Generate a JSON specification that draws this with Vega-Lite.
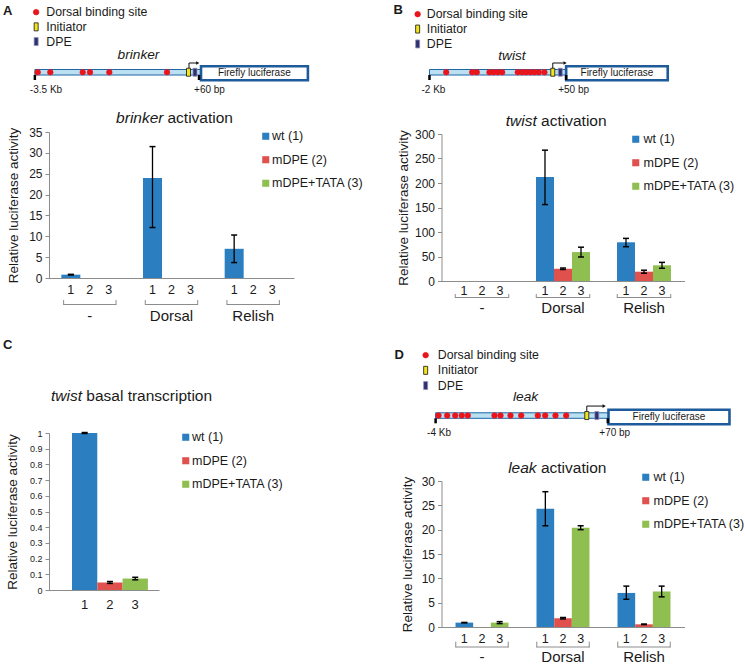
{
  "$schema": "https://vega.github.io/schema/vega-lite/v6.json",
  "background": "white",
  "padding": {"left": 2, "top": 0, "right": 0, "bottom": 0},
  "config": {
    "font": "Liberation Sans",
    "view": {"stroke": null},
    "axis": {"grid": false, "labelFont": "Liberation Sans", "titleFont": "Liberation Sans", "labelColor": "#1a1a1a", "titleColor": "#1a1a1a", "domainColor": "#8c8c8c", "tickColor": "#8c8c8c", "titleFontWeight": "normal", "labelOverlap": false, "labelFlush": false},
    "legend": {"labelFont": "Liberation Sans", "labelColor": "#1a1a1a"},
    "text": {"font": "Liberation Sans", "color": "#1a1a1a"}
  },
  "datasets": {
    "slots": [
      {"group": "-", "series": "wt (1)", "num": "1"}, {"group": "-", "series": "mDPE (2)", "num": "2"}, {"group": "-", "series": "mDPE+TATA (3)", "num": "3"},
      {"group": "Dorsal", "series": "wt (1)", "num": "1"}, {"group": "Dorsal", "series": "mDPE (2)", "num": "2"}, {"group": "Dorsal", "series": "mDPE+TATA (3)", "num": "3"},
      {"group": "Relish", "series": "wt (1)", "num": "1"}, {"group": "Relish", "series": "mDPE (2)", "num": "2"}, {"group": "Relish", "series": "mDPE+TATA (3)", "num": "3"}
    ],
    "groups": [{"group": "-"}, {"group": "Dorsal"}, {"group": "Relish"}],
    "brinker": [
      {"group": "-", "series": "wt (1)", "value": 0.8, "lo": 0.72, "hi": 0.88},
      {"group": "Dorsal", "series": "wt (1)", "value": 24.0, "lo": 12.1, "hi": 31.5},
      {"group": "Relish", "series": "wt (1)", "value": 7.0, "lo": 3.7, "hi": 10.3}
    ],
    "twist": [
      {"group": "Dorsal", "series": "wt (1)", "value": 212, "lo": 156, "hi": 267},
      {"group": "Dorsal", "series": "mDPE (2)", "value": 25, "lo": 23.5, "hi": 26.5},
      {"group": "Dorsal", "series": "mDPE+TATA (3)", "value": 59, "lo": 49, "hi": 69},
      {"group": "Relish", "series": "wt (1)", "value": 79, "lo": 70, "hi": 87},
      {"group": "Relish", "series": "mDPE (2)", "value": 19, "lo": 16, "hi": 22},
      {"group": "Relish", "series": "mDPE+TATA (3)", "value": 32, "lo": 26, "hi": 38}
    ],
    "twist_basal": [
      {"num": "1", "series": "wt (1)", "value": 1.0, "lo": 0.997, "hi": 1.003},
      {"num": "2", "series": "mDPE (2)", "value": 0.048, "lo": 0.042, "hi": 0.054},
      {"num": "3", "series": "mDPE+TATA (3)", "value": 0.073, "lo": 0.065, "hi": 0.081}
    ],
    "leak": [
      {"group": "-", "series": "wt (1)", "value": 0.9, "lo": 0.86, "hi": 0.94},
      {"group": "-", "series": "mDPE+TATA (3)", "value": 0.9, "lo": 0.7, "hi": 1.1},
      {"group": "Dorsal", "series": "wt (1)", "value": 24.3, "lo": 20.8, "hi": 27.8},
      {"group": "Dorsal", "series": "mDPE (2)", "value": 1.8, "lo": 1.65, "hi": 1.95},
      {"group": "Dorsal", "series": "mDPE+TATA (3)", "value": 20.4, "lo": 20.0, "hi": 20.8},
      {"group": "Relish", "series": "wt (1)", "value": 7.0, "lo": 5.7, "hi": 8.4},
      {"group": "Relish", "series": "mDPE (2)", "value": 0.55, "lo": 0.5, "hi": 0.6},
      {"group": "Relish", "series": "mDPE+TATA (3)", "value": 7.3, "lo": 6.2, "hi": 8.4}
    ],
    "brinker_sites": [
      {"feature": "Dorsal binding site", "kb": -3.435}, {"feature": "Dorsal binding site", "kb": -3.148},
      {"feature": "Dorsal binding site", "kb": -2.41}, {"feature": "Dorsal binding site", "kb": -2.244},
      {"feature": "Dorsal binding site", "kb": -1.804}, {"feature": "Dorsal binding site", "kb": -0.49},
      {"feature": "Initiator", "kb": 0}, {"feature": "DPE", "kb": 0.148}
    ],
    "twist_sites": [
      {"feature": "Dorsal binding site", "kb": -1.729}, {"feature": "Dorsal binding site", "kb": -1.307},
      {"feature": "Dorsal binding site", "kb": -1.233}, {"feature": "Dorsal binding site", "kb": -1.027},
      {"feature": "Dorsal binding site", "kb": -0.962}, {"feature": "Dorsal binding site", "kb": -0.892},
      {"feature": "Dorsal binding site", "kb": -0.821}, {"feature": "Dorsal binding site", "kb": -0.568},
      {"feature": "Dorsal binding site", "kb": -0.496}, {"feature": "Dorsal binding site", "kb": -0.431},
      {"feature": "Dorsal binding site", "kb": -0.362}, {"feature": "Dorsal binding site", "kb": -0.297},
      {"feature": "Dorsal binding site", "kb": -0.227}, {"feature": "Dorsal binding site", "kb": -0.135},
      {"feature": "Initiator", "kb": 0}, {"feature": "DPE", "kb": 0.122}
    ],
    "leak_sites": [
      {"feature": "Dorsal binding site", "kb": -3.923}, {"feature": "Dorsal binding site", "kb": -3.693},
      {"feature": "Dorsal binding site", "kb": -3.481}, {"feature": "Dorsal binding site", "kb": -3.307},
      {"feature": "Dorsal binding site", "kb": -3.148}, {"feature": "Dorsal binding site", "kb": -2.442},
      {"feature": "Dorsal binding site", "kb": -2.283}, {"feature": "Dorsal binding site", "kb": -2.019},
      {"feature": "Dorsal binding site", "kb": -1.735}, {"feature": "Dorsal binding site", "kb": -1.296},
      {"feature": "Dorsal binding site", "kb": -1.1}, {"feature": "Dorsal binding site", "kb": -0.828},
      {"feature": "Dorsal binding site", "kb": -0.545},
      {"feature": "Initiator", "kb": 0}, {"feature": "DPE", "kb": 0.265}
    ]
  },
  "spacing": 28.5,
  "resolve": {"scale": {"color": "independent", "fill": "independent", "stroke": "independent", "shape": "independent", "xOffset": "independent"}},
  "hconcat": [
    {
      "vconcat": [
        {
          "width": 260, "height": 75,
          "layer": [
            {"data": {"values": [{"part": "promoter", "start": -3.5, "end": 0.285}]},
             "mark": {"type": "rect", "fill": "#bae0f1", "stroke": "#2065a3", "strokeWidth": 1},
             "encoding": {
               "x": {"field": "start", "type": "quantitative", "title": null, "scale": {"domain": [-3.178, 2.745], "nice": false, "zero": false}, "axis": null},
               "x2": {"field": "end"},
               "y": {"datum": 0, "type": "quantitative", "scale": {"domain": [0, 15], "nice": false, "zero": false}, "axis": null},
               "y2": {"datum": 1.1}}},
            {"data": {"values": [{"part": "Firefly luciferase", "start": 0.285, "end": 2.72}]},
             "mark": {"type": "rect", "fill": "white", "stroke": "#1d5b9b", "strokeWidth": 2.6},
             "encoding": {"x": {"field": "start", "type": "quantitative", "title": null}, "x2": {"field": "end"}, "y": {"datum": -1.05}, "y2": {"datum": 1.75}}},
            {"data": {"values": [{}]},
             "mark": {"type": "text", "text": "Firefly luciferase", "fontSize": 10, "baseline": "middle"},
             "encoding": {"x": {"datum": 1.5}, "y": {"datum": 0.35}}},
            {"data": {"values": [{"pos": -3.5, "label": "-3.5 Kb"}, {"pos": 0.24, "label": "+60 bp"}]},
             "mark": {"type": "rule", "color": "#000", "strokeWidth": 2.5},
             "encoding": {"x": {"field": "pos", "type": "quantitative", "title": null}, "y": {"datum": 0}, "y2": {"datum": -1}}},
            {"data": {"values": [{"pos": -3.5, "label": "-3.5 Kb"}, {"pos": 0.24, "label": "+60 bp"}]},
             "mark": {"type": "text", "align": "left", "dx": -5, "fontSize": 10, "baseline": "middle"},
             "encoding": {"x": {"field": "pos", "type": "quantitative", "title": null}, "y": {"datum": -2.94}, "text": {"field": "label"}}},
            {"data": {"values": [{}]}, "mark": {"type": "rule", "color": "#111", "strokeWidth": 1},
             "encoding": {"x": {"datum": 0.011}, "y": {"datum": 1.1}, "y2": {"datum": 2.4}}},
            {"data": {"values": [{}]}, "mark": {"type": "rule", "color": "#111", "strokeWidth": 1},
             "encoding": {"x": {"datum": 0.011}, "x2": {"datum": 0.19}, "y": {"datum": 2.4}}},
            {"data": {"values": [{}]}, "mark": {"type": "point", "shape": "triangle-right", "filled": true, "color": "#111", "size": 14, "opacity": 1},
             "encoding": {"x": {"datum": 0.21}, "y": {"datum": 2.4}}},
            {"data": {"name": "brinker_sites"},
             "mark": {"type": "point", "filled": true, "opacity": 1, "strokeWidth": 0.8, "size": 30},
             "encoding": {
               "x": {"field": "kb", "type": "quantitative", "title": null},
               "y": {"datum": 0.55},
               "fill": {"field": "feature", "type": "nominal", "scale": {"domain": ["Dorsal binding site", "Initiator", "DPE"], "range": ["#e8151d", "#f3e51c", "#2e2f70"]},
                        "legend": {"title": null, "orient": "none", "legendX": -19, "legendY": 6, "direction": "vertical", "labelFontSize": 12.3, "labelOffset": 4, "rowPadding": 1.7, "padding": 0, "symbolSize": 30, "symbolStrokeWidth": 0.8}},
               "stroke": {"field": "feature", "type": "nominal", "scale": {"domain": ["Dorsal binding site", "Initiator", "DPE"], "range": ["#e8151d", "#111111", "#9090b8"]},
                        "legend": {"title": null, "orient": "none", "legendX": -19, "legendY": 6, "direction": "vertical", "labelFontSize": 12.3, "labelOffset": 4, "rowPadding": 1.7, "padding": 0, "symbolSize": 30, "symbolStrokeWidth": 0.8}},
               "shape": {"field": "feature", "type": "nominal", "scale": {"domain": ["Dorsal binding site", "Initiator", "DPE"], "range": ["circle", "M-0.73,-1.46H0.73V1.46H-0.73Z", "M-0.73,-1.46H0.73V1.46H-0.73Z"]},
                        "legend": {"title": null, "orient": "none", "legendX": -19, "legendY": 6, "direction": "vertical", "labelFontSize": 12.3, "labelOffset": 4, "rowPadding": 1.7, "padding": 0, "symbolSize": 30, "symbolStrokeWidth": 0.8}}
             }},
            {"data": {"values": [{}]}, "mark": {"type": "text", "text": "brinker", "fontStyle": "italic", "fontSize": 13.7, "baseline": "middle"},
             "encoding": {"x": {"datum": -1.139}, "y": {"datum": 4.0}}},
            {"data": {"values": [{}]}, "mark": {"type": "text", "text": "A", "fontWeight": "bold", "fontSize": 13, "align": "left", "baseline": "middle"},
             "encoding": {"x": {"datum": -4.225}, "y": {"datum": 12.86}}}
          ]
        },
        {
          "width": 245, "height": 146,
          "layer": [
            {"data": {"name": "brinker"}, "mark": {"type": "bar"},
             "encoding": {
               "x": {"field": "group", "type": "nominal", "scale": {"domain": ["-", "Dorsal", "Relish"], "paddingInner": 0.302, "paddingOuter": 0.151}, "axis": {"title": null, "labelAngle": 0, "ticks": false, "tickSize": 0, "labelPadding": 30, "labelFontSize": 15}},
               "xOffset": {"field": "series", "type": "nominal", "scale": {"domain": ["wt (1)", "mDPE (2)", "mDPE+TATA (3)"], "paddingInner": 0, "paddingOuter": 0}},
               "y": {"field": "value", "type": "quantitative", "scale": {"domain": [0, 35], "nice": false}, "axis": {"title": "Relative luciferase activity", "values": [0, 5, 10, 15, 20, 25, 30, 35], "tickCount": 20, "labelOverlap": false, "tickSize": 4, "labelFontSize": 12, "labelPadding": 3, "titleFontSize": 13.5, "titlePadding": 8.6}},
               "color": {"field": "series", "type": "nominal", "scale": {"domain": ["wt (1)", "mDPE (2)", "mDPE+TATA (3)"], "range": ["#2b7fc1", "#e0514e", "#8ebf50"]},
                         "legend": {"title": null, "orient": "none", "legendX": 210.5, "legendY": -2, "direction": "vertical", "symbolType": "square", "symbolSize": 50, "symbolStrokeWidth": 0, "labelFontSize": 12.5, "labelOffset": 0, "rowPadding": 10.5, "padding": 0}}
             }},
            {"data": {"name": "brinker"}, "mark": {"type": "rule", "color": "#000", "strokeWidth": 1.3},
             "encoding": {"x": {"field": "group", "type": "nominal"}, "xOffset": {"field": "series", "type": "nominal"}, "y": {"field": "lo", "type": "quantitative"}, "y2": {"field": "hi"}}},
            {"data": {"name": "brinker"}, "mark": {"type": "tick", "orient": "horizontal", "color": "#000", "size": 6, "thickness": 1.5, "opacity": 1},
             "encoding": {"x": {"field": "group", "type": "nominal"}, "xOffset": {"field": "series", "type": "nominal"}, "y": {"field": "lo", "type": "quantitative"}}},
            {"data": {"name": "brinker"}, "mark": {"type": "tick", "orient": "horizontal", "color": "#000", "size": 6, "thickness": 1.5, "opacity": 1},
             "encoding": {"x": {"field": "group", "type": "nominal"}, "xOffset": {"field": "series", "type": "nominal"}, "y": {"field": "hi", "type": "quantitative"}}},
            {"data": {"name": "slots"}, "mark": {"type": "text", "fontSize": 12.5, "baseline": "middle"},
             "encoding": {"x": {"field": "group", "type": "nominal"}, "xOffset": {"field": "series", "type": "nominal"}, "y": {"datum": -2.88}, "text": {"field": "num"}}},
            {"data": {"name": "groups"}, "mark": {"type": "bar", "color": "#8c8c8c", "width": {"band": 0.92}},
             "encoding": {"x": {"field": "group", "type": "nominal"}, "y": {"datum": -6.47}, "y2": {"datum": -6.23}}},
            {"data": {"name": "groups"}, "mark": {"type": "rule", "color": "#8c8c8c"},
             "encoding": {"x": {"field": "group", "type": "nominal", "bandPosition": 0.04}, "y": {"datum": -5.27}, "y2": {"datum": -6.47}}},
            {"data": {"name": "groups"}, "mark": {"type": "rule", "color": "#8c8c8c"},
             "encoding": {"x": {"field": "group", "type": "nominal", "bandPosition": 0.96}, "y": {"datum": -5.27}, "y2": {"datum": -6.47}}},
            {"data": {"values": [{}]}, "mark": {"type": "text", "text": "brinker", "fontStyle": "italic", "fontSize": 15.5, "align": "right", "baseline": "middle", "dx": -8},
             "encoding": {"x": {"datum": "Dorsal"}, "y": {"datum": 38.36}}},
            {"data": {"values": [{}]}, "mark": {"type": "text", "text": "activation", "fontSize": 15.5, "align": "left", "baseline": "middle", "dx": -4},
             "encoding": {"x": {"datum": "Dorsal"}, "y": {"datum": 38.36}}}
          ]
        },
        {"width": 10, "height": 41, "data": {"values": []}, "mark": "point"},
        {
          "width": 110, "height": 157,
          "layer": [
            {"data": {"name": "twist_basal"}, "mark": {"type": "bar"},
             "encoding": {
               "x": {"field": "num", "type": "nominal", "scale": {"domain": ["1", "2", "3"], "paddingInner": 0, "paddingOuter": 0.674, "align": 0.674}, "axis": {"title": null, "labelAngle": 0, "ticks": false, "tickSize": 0, "labelPadding": 8, "labelFontSize": 13}},
               "y": {"field": "value", "type": "quantitative", "scale": {"domain": [0, 1], "nice": false}, "axis": {"title": "Relative luciferase activity", "values": [0, 0.1, 0.2, 0.3, 0.4, 0.5, 0.6, 0.7, 0.8, 0.9, 1], "tickCount": 20, "labelOverlap": false, "format": "~g", "tickSize": 4, "labelFontSize": 9, "labelPadding": 3, "titleFontSize": 13.5, "titlePadding": 9.8}},
               "color": {"field": "series", "type": "nominal", "scale": {"domain": ["wt (1)", "mDPE (2)", "mDPE+TATA (3)"], "range": ["#2b7fc1", "#e0514e", "#8ebf50"]},
                         "legend": {"title": null, "orient": "none", "legendX": 130.5, "legendY": -2, "direction": "vertical", "symbolType": "square", "symbolSize": 50, "symbolStrokeWidth": 0, "labelFontSize": 12.5, "labelOffset": 0, "rowPadding": 10.5, "padding": 0}}
             }},
            {"data": {"name": "twist_basal"}, "mark": {"type": "rule", "color": "#000", "strokeWidth": 1.3},
             "encoding": {"x": {"field": "num", "type": "nominal"}, "y": {"field": "lo", "type": "quantitative"}, "y2": {"field": "hi"}}},
            {"data": {"name": "twist_basal"}, "mark": {"type": "tick", "orient": "horizontal", "color": "#000", "size": 6, "thickness": 1.5, "opacity": 1},
             "encoding": {"x": {"field": "num", "type": "nominal"}, "y": {"field": "lo", "type": "quantitative"}}},
            {"data": {"name": "twist_basal"}, "mark": {"type": "tick", "orient": "horizontal", "color": "#000", "size": 6, "thickness": 1.5, "opacity": 1},
             "encoding": {"x": {"field": "num", "type": "nominal"}, "y": {"field": "hi", "type": "quantitative"}}},
            {"data": {"values": [{}]}, "mark": {"type": "text", "text": "twist", "fontStyle": "italic", "fontSize": 15.5, "align": "right", "baseline": "middle", "dx": -2.65},
             "encoding": {"x": {"datum": "1"}, "y": {"datum": 1.2357}}},
            {"data": {"values": [{}]}, "mark": {"type": "text", "text": "basal transcription", "fontSize": 15.5, "align": "left", "baseline": "middle", "dx": 1.65},
             "encoding": {"x": {"datum": "1"}, "y": {"datum": 1.2357}}},
            {"data": {"values": [{}]}, "mark": {"type": "text", "text": "C", "fontWeight": "bold", "fontSize": 13, "align": "left", "baseline": "middle", "dx": -81.65},
             "encoding": {"x": {"datum": "1"}, "y": {"datum": 1.5605}}}
          ]
        }
      ],
      "spacing": 57,
      "bounds": "flush",
      "resolve": {"scale": {"color": "independent", "fill": "independent", "stroke": "independent", "shape": "independent", "xOffset": "independent"}}
    },
    {
      "vconcat": [
        {
          "width": 243, "height": 75,
          "layer": [
            {"data": {"values": [{"part": "promoter", "start": -2, "end": 0.217}]},
             "mark": {"type": "rect", "fill": "#bae0f1", "stroke": "#2065a3", "strokeWidth": 1},
             "encoding": {
               "x": {"field": "start", "type": "quantitative", "title": null, "scale": {"domain": [-1.805, 2.137], "nice": false, "zero": false}, "axis": null},
               "x2": {"field": "end"},
               "y": {"datum": 0, "type": "quantitative", "scale": {"domain": [0, 15], "nice": false, "zero": false}, "axis": null},
               "y2": {"datum": 1.1}}},
            {"data": {"values": [{"part": "Firefly luciferase", "start": 0.217, "end": 1.865}]},
             "mark": {"type": "rect", "fill": "white", "stroke": "#1d5b9b", "strokeWidth": 2.6},
             "encoding": {"x": {"field": "start", "type": "quantitative", "title": null}, "x2": {"field": "end"}, "y": {"datum": -1.05}, "y2": {"datum": 1.75}}},
            {"data": {"values": [{}]},
             "mark": {"type": "text", "text": "Firefly luciferase", "fontSize": 10, "baseline": "middle"},
             "encoding": {"x": {"datum": 1.041}, "y": {"datum": 0.35}}},
            {"data": {"values": [{"pos": -2, "label": "-2 Kb"}, {"pos": 0.217, "label": "+50 bp"}]},
             "mark": {"type": "rule", "color": "#000", "strokeWidth": 2.5},
             "encoding": {"x": {"field": "pos", "type": "quantitative", "title": null}, "y": {"datum": 0}, "y2": {"datum": -1}}},
            {"data": {"values": [{"pos": -2, "label": "-2 Kb"}, {"pos": 0.217, "label": "+50 bp"}]},
             "mark": {"type": "text", "align": "left", "dx": -8, "fontSize": 10, "baseline": "middle"},
             "encoding": {"x": {"field": "pos", "type": "quantitative", "title": null}, "y": {"datum": -2.94}, "text": {"field": "label"}}},
            {"data": {"values": [{}]}, "mark": {"type": "rule", "color": "#111", "strokeWidth": 1},
             "encoding": {"x": {"datum": 0.0}, "y": {"datum": 1.1}, "y2": {"datum": 2.4}}},
            {"data": {"values": [{}]}, "mark": {"type": "rule", "color": "#111", "strokeWidth": 1},
             "encoding": {"x": {"datum": 0.0}, "x2": {"datum": 0.18}, "y": {"datum": 2.4}}},
            {"data": {"values": [{}]}, "mark": {"type": "point", "shape": "triangle-right", "filled": true, "color": "#111", "size": 14, "opacity": 1},
             "encoding": {"x": {"datum": 0.2}, "y": {"datum": 2.4}}},
            {"data": {"name": "twist_sites"},
             "mark": {"type": "point", "filled": true, "opacity": 1, "strokeWidth": 0.8, "size": 30},
             "encoding": {
               "x": {"field": "kb", "type": "quantitative", "title": null},
               "y": {"datum": 0.55},
               "fill": {"field": "feature", "type": "nominal", "scale": {"domain": ["Dorsal binding site", "Initiator", "DPE"], "range": ["#e8151d", "#f3e51c", "#2e2f70"]},
                        "legend": {"title": null, "orient": "none", "legendX": -30, "legendY": 8, "direction": "vertical", "labelFontSize": 12.3, "labelOffset": 3, "rowPadding": 1.9, "padding": 0, "symbolSize": 30, "symbolStrokeWidth": 0.8}},
               "stroke": {"field": "feature", "type": "nominal", "scale": {"domain": ["Dorsal binding site", "Initiator", "DPE"], "range": ["#e8151d", "#111111", "#9090b8"]},
                        "legend": {"title": null, "orient": "none", "legendX": -30, "legendY": 8, "direction": "vertical", "labelFontSize": 12.3, "labelOffset": 3, "rowPadding": 1.9, "padding": 0, "symbolSize": 30, "symbolStrokeWidth": 0.8}},
               "shape": {"field": "feature", "type": "nominal", "scale": {"domain": ["Dorsal binding site", "Initiator", "DPE"], "range": ["circle", "M-0.73,-1.46H0.73V1.46H-0.73Z", "M-0.73,-1.46H0.73V1.46H-0.73Z"]},
                        "legend": {"title": null, "orient": "none", "legendX": -30, "legendY": 8, "direction": "vertical", "labelFontSize": 12.3, "labelOffset": 3, "rowPadding": 1.9, "padding": 0, "symbolSize": 30, "symbolStrokeWidth": 0.8}}
             }},
            {"data": {"values": [{}]}, "mark": {"type": "text", "text": "twist", "fontStyle": "italic", "fontSize": 13.7, "baseline": "middle"},
             "encoding": {"x": {"datum": -0.662}, "y": {"datum": 3.86}}},
            {"data": {"values": [{}]}, "mark": {"type": "text", "text": "B", "fontWeight": "bold", "fontSize": 13, "align": "left", "baseline": "middle"},
             "encoding": {"x": {"datum": -2.584}, "y": {"datum": 13.06}}}
          ]
        },
        {
          "width": 243, "height": 147,
          "layer": [
            {"data": {"name": "twist"}, "mark": {"type": "bar"},
             "encoding": {
               "x": {"field": "group", "type": "nominal", "scale": {"domain": ["-", "Dorsal", "Relish"], "paddingInner": 0.333, "paddingOuter": 0.1665}, "axis": {"title": null, "labelAngle": 0, "ticks": false, "tickSize": 0, "labelPadding": 19, "labelFontSize": 15}},
               "xOffset": {"field": "series", "type": "nominal", "scale": {"domain": ["wt (1)", "mDPE (2)", "mDPE+TATA (3)"], "paddingInner": 0, "paddingOuter": 0}},
               "y": {"field": "value", "type": "quantitative", "scale": {"domain": [0, 300], "nice": false}, "axis": {"title": "Relative luciferase activity", "values": [0, 50, 100, 150, 200, 250, 300], "tickCount": 20, "labelOverlap": false, "tickSize": 4, "labelFontSize": 12, "labelPadding": 3, "titleFontSize": 13.5, "titlePadding": 4.3}},
               "color": {"field": "series", "type": "nominal", "scale": {"domain": ["wt (1)", "mDPE (2)", "mDPE+TATA (3)"], "range": ["#2b7fc1", "#e0514e", "#8ebf50"]},
                         "legend": {"title": null, "orient": "none", "legendX": 188, "legendY": -1, "direction": "vertical", "symbolType": "square", "symbolSize": 50, "symbolStrokeWidth": 0, "labelFontSize": 12.5, "labelOffset": 1.5, "rowPadding": 10.5, "padding": 0}}
             }},
            {"data": {"name": "twist"}, "mark": {"type": "rule", "color": "#000", "strokeWidth": 1.3},
             "encoding": {"x": {"field": "group", "type": "nominal"}, "xOffset": {"field": "series", "type": "nominal"}, "y": {"field": "lo", "type": "quantitative"}, "y2": {"field": "hi"}}},
            {"data": {"name": "twist"}, "mark": {"type": "tick", "orient": "horizontal", "color": "#000", "size": 6, "thickness": 1.5, "opacity": 1},
             "encoding": {"x": {"field": "group", "type": "nominal"}, "xOffset": {"field": "series", "type": "nominal"}, "y": {"field": "lo", "type": "quantitative"}}},
            {"data": {"name": "twist"}, "mark": {"type": "tick", "orient": "horizontal", "color": "#000", "size": 6, "thickness": 1.5, "opacity": 1},
             "encoding": {"x": {"field": "group", "type": "nominal"}, "xOffset": {"field": "series", "type": "nominal"}, "y": {"field": "hi", "type": "quantitative"}}},
            {"data": {"name": "slots"}, "mark": {"type": "text", "fontSize": 12.5, "baseline": "middle"},
             "encoding": {"x": {"field": "group", "type": "nominal"}, "xOffset": {"field": "series", "type": "nominal"}, "y": {"datum": -20.4}, "text": {"field": "num"}}},
            {"data": {"name": "groups"}, "mark": {"type": "bar", "color": "#8c8c8c", "width": {"band": 1}},
             "encoding": {"x": {"field": "group", "type": "nominal"}, "y": {"datum": -34.7}, "y2": {"datum": -32.7}}},
            {"data": {"name": "groups"}, "mark": {"type": "rule", "color": "#8c8c8c"},
             "encoding": {"x": {"field": "group", "type": "nominal", "bandPosition": 0.005}, "y": {"datum": -26.5}, "y2": {"datum": -34.7}}},
            {"data": {"name": "groups"}, "mark": {"type": "rule", "color": "#8c8c8c"},
             "encoding": {"x": {"field": "group", "type": "nominal", "bandPosition": 0.995}, "y": {"datum": -26.5}, "y2": {"datum": -34.7}}},
            {"data": {"values": [{}]}, "mark": {"type": "text", "text": "twist", "fontStyle": "italic", "fontSize": 15.5, "align": "right", "baseline": "middle", "dx": -26.2},
             "encoding": {"x": {"datum": "Dorsal"}, "y": {"datum": 326.5}}},
            {"data": {"values": [{}]}, "mark": {"type": "text", "text": "activation", "fontSize": 15.5, "align": "left", "baseline": "middle", "dx": -21.9},
             "encoding": {"x": {"datum": "Dorsal"}, "y": {"datum": 326.5}}}
          ]
        },
        {
          "width": 243, "height": 82,
          "layer": [
            {"data": {"values": [{"part": "promoter", "start": -4, "end": 0.574}]},
             "mark": {"type": "rect", "fill": "#bae0f1", "stroke": "#2065a3", "strokeWidth": 1},
             "encoding": {
               "x": {"field": "start", "type": "quantitative", "title": null, "scale": {"domain": [-3.844, 2.585], "nice": false, "zero": false}, "axis": null},
               "x2": {"field": "end"},
               "y": {"datum": 0, "type": "quantitative", "scale": {"domain": [-0.74, 15.66], "nice": false, "zero": false}, "axis": null},
               "y2": {"datum": 1.1}}},
            {"data": {"values": [{"part": "Firefly luciferase", "start": 0.574, "end": 3.775}]},
             "mark": {"type": "rect", "fill": "white", "stroke": "#1d5b9b", "strokeWidth": 2.6},
             "encoding": {"x": {"field": "start", "type": "quantitative", "title": null}, "x2": {"field": "end"}, "y": {"datum": -1.2}, "y2": {"datum": 1.7}}},
            {"data": {"values": [{}]},
             "mark": {"type": "text", "text": "Firefly luciferase", "fontSize": 10, "baseline": "middle"},
             "encoding": {"x": {"datum": 2.175}, "y": {"datum": 0.25}}},
            {"data": {"values": [{"pos": -4, "label": "-4 Kb"}, {"pos": 0.556, "label": "+70 bp"}]},
             "mark": {"type": "rule", "color": "#000", "strokeWidth": 2.5},
             "encoding": {"x": {"field": "pos", "type": "quantitative", "title": null}, "y": {"datum": 0}, "y2": {"datum": -1}}},
            {"data": {"values": [{"pos": -4, "label": "-4 Kb"}, {"pos": 0.556, "label": "+70 bp"}]},
             "mark": {"type": "text", "align": "left", "dx": -8.5, "fontSize": 10, "baseline": "middle"},
             "encoding": {"x": {"field": "pos", "type": "quantitative", "title": null}, "y": {"datum": -2.94}, "text": {"field": "label"}}},
            {"data": {"values": [{}]}, "mark": {"type": "rule", "color": "#111", "strokeWidth": 1},
             "encoding": {"x": {"datum": 0.0}, "y": {"datum": 1.1}, "y2": {"datum": 2.45}}},
            {"data": {"values": [{}]}, "mark": {"type": "rule", "color": "#111", "strokeWidth": 1},
             "encoding": {"x": {"datum": 0.0}, "x2": {"datum": 0.43}, "y": {"datum": 2.45}}},
            {"data": {"values": [{}]}, "mark": {"type": "point", "shape": "triangle-right", "filled": true, "color": "#111", "size": 14, "opacity": 1},
             "encoding": {"x": {"datum": 0.46}, "y": {"datum": 2.45}}},
            {"data": {"name": "leak_sites"},
             "mark": {"type": "point", "filled": true, "opacity": 1, "strokeWidth": 0.8, "size": 30},
             "encoding": {
               "x": {"field": "kb", "type": "quantitative", "title": null},
               "y": {"datum": 0.55},
               "fill": {"field": "feature", "type": "nominal", "scale": {"domain": ["Dorsal binding site", "Initiator", "DPE"], "range": ["#e8151d", "#f3e51c", "#2e2f70"]},
                        "legend": {"title": null, "orient": "none", "legendX": -22, "legendY": 9, "direction": "vertical", "labelFontSize": 12.3, "labelOffset": 6, "rowPadding": 2.2, "padding": 0, "symbolSize": 30, "symbolStrokeWidth": 0.8}},
               "stroke": {"field": "feature", "type": "nominal", "scale": {"domain": ["Dorsal binding site", "Initiator", "DPE"], "range": ["#e8151d", "#111111", "#9090b8"]},
                        "legend": {"title": null, "orient": "none", "legendX": -22, "legendY": 9, "direction": "vertical", "labelFontSize": 12.3, "labelOffset": 6, "rowPadding": 2.2, "padding": 0, "symbolSize": 30, "symbolStrokeWidth": 0.8}},
               "shape": {"field": "feature", "type": "nominal", "scale": {"domain": ["Dorsal binding site", "Initiator", "DPE"], "range": ["circle", "M-0.73,-1.46H0.73V1.46H-0.73Z", "M-0.73,-1.46H0.73V1.46H-0.73Z"]},
                        "legend": {"title": null, "orient": "none", "legendX": -22, "legendY": 9, "direction": "vertical", "labelFontSize": 12.3, "labelOffset": 6, "rowPadding": 2.2, "padding": 0, "symbolSize": 30, "symbolStrokeWidth": 0.8}}
             }},
            {"data": {"values": [{}]}, "mark": {"type": "text", "text": "leak", "fontStyle": "italic", "fontSize": 13.7, "baseline": "middle"},
             "encoding": {"x": {"datum": -1.62}, "y": {"datum": 4.3}}},
            {"data": {"values": [{}]}, "mark": {"type": "text", "text": "D", "fontWeight": "bold", "fontSize": 13, "align": "left", "baseline": "middle"},
             "encoding": {"x": {"datum": -5.087}, "y": {"datum": 12.66}}}
          ]
        },
        {
          "width": 243, "height": 146,
          "layer": [
            {"data": {"name": "leak"}, "mark": {"type": "bar"},
             "encoding": {
               "x": {"field": "group", "type": "nominal", "scale": {"domain": ["-", "Dorsal", "Relish"], "paddingInner": 0.346, "paddingOuter": 0.173}, "axis": {"title": null, "labelAngle": 0, "ticks": false, "tickSize": 0, "labelPadding": 22, "labelFontSize": 15}},
               "xOffset": {"field": "series", "type": "nominal", "scale": {"domain": ["wt (1)", "mDPE (2)", "mDPE+TATA (3)"], "paddingInner": 0, "paddingOuter": 0}},
               "y": {"field": "value", "type": "quantitative", "scale": {"domain": [0, 30], "nice": false}, "axis": {"title": "Relative luciferase activity", "values": [0, 5, 10, 15, 20, 25, 30], "tickCount": 20, "labelOverlap": false, "tickSize": 4, "labelFontSize": 12, "labelPadding": 3, "titleFontSize": 13.5, "titlePadding": 7}},
               "color": {"field": "series", "type": "nominal", "scale": {"domain": ["wt (1)", "mDPE (2)", "mDPE+TATA (3)"], "range": ["#2b7fc1", "#e0514e", "#8ebf50"]},
                         "legend": {"title": null, "orient": "none", "legendX": 198, "legendY": -10, "direction": "vertical", "symbolType": "square", "symbolSize": 50, "symbolStrokeWidth": 0, "labelFontSize": 12.5, "labelOffset": 1.5, "rowPadding": 10.5, "padding": 0}}
             }},
            {"data": {"name": "leak"}, "mark": {"type": "rule", "color": "#000", "strokeWidth": 1.3},
             "encoding": {"x": {"field": "group", "type": "nominal"}, "xOffset": {"field": "series", "type": "nominal"}, "y": {"field": "lo", "type": "quantitative"}, "y2": {"field": "hi"}}},
            {"data": {"name": "leak"}, "mark": {"type": "tick", "orient": "horizontal", "color": "#000", "size": 6, "thickness": 1.5, "opacity": 1},
             "encoding": {"x": {"field": "group", "type": "nominal"}, "xOffset": {"field": "series", "type": "nominal"}, "y": {"field": "lo", "type": "quantitative"}}},
            {"data": {"name": "leak"}, "mark": {"type": "tick", "orient": "horizontal", "color": "#000", "size": 6, "thickness": 1.5, "opacity": 1},
             "encoding": {"x": {"field": "group", "type": "nominal"}, "xOffset": {"field": "series", "type": "nominal"}, "y": {"field": "hi", "type": "quantitative"}}},
            {"data": {"name": "slots"}, "mark": {"type": "text", "fontSize": 12.5, "baseline": "middle"},
             "encoding": {"x": {"field": "group", "type": "nominal"}, "xOffset": {"field": "series", "type": "nominal"}, "y": {"datum": -2.5}, "text": {"field": "num"}}},
            {"data": {"name": "groups"}, "mark": {"type": "bar", "color": "#8c8c8c", "width": {"band": 1}},
             "encoding": {"x": {"field": "group", "type": "nominal"}, "y": {"datum": -4.2}, "y2": {"datum": -4.0}}},
            {"data": {"name": "groups"}, "mark": {"type": "rule", "color": "#8c8c8c"},
             "encoding": {"x": {"field": "group", "type": "nominal", "bandPosition": 0.005}, "y": {"datum": -3.0}, "y2": {"datum": -4.2}}},
            {"data": {"name": "groups"}, "mark": {"type": "rule", "color": "#8c8c8c"},
             "encoding": {"x": {"field": "group", "type": "nominal", "bandPosition": 0.995}, "y": {"datum": -3.0}, "y2": {"datum": -4.2}}},
            {"data": {"values": [{}]}, "mark": {"type": "text", "text": "leak", "fontStyle": "italic", "fontSize": 15.5, "align": "right", "baseline": "middle", "dx": -26.4},
             "encoding": {"x": {"datum": "Dorsal"}, "y": {"datum": 32.67}}},
            {"data": {"values": [{}]}, "mark": {"type": "text", "text": "activation", "fontSize": 15.5, "align": "left", "baseline": "middle", "dx": -22.1},
             "encoding": {"x": {"datum": "Dorsal"}, "y": {"datum": 32.67}}}
          ]
        }
      ],
      "spacing": 59,
      "bounds": "flush",
      "resolve": {"scale": {"color": "independent", "fill": "independent", "stroke": "independent", "shape": "independent", "xOffset": "independent"}}
    }
  ]
}
